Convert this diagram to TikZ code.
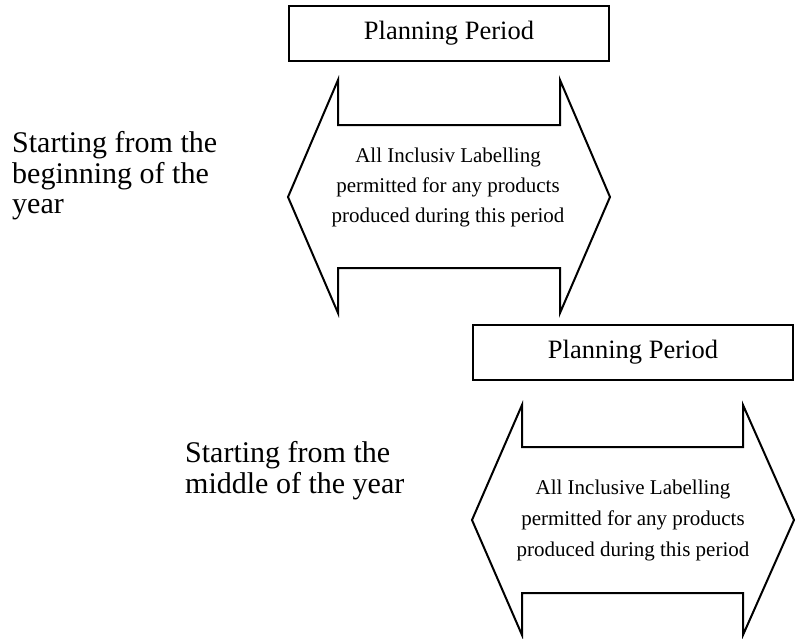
\documentclass[tikz,border=0pt]{standalone}
\usepackage{fontspec}
\setmainfont{Liberation Serif}
\begin{document}
\begin{tikzpicture}[x=1pt,y=-1pt,
  period/.style={draw, line width=2pt, minimum width=320pt, minimum height=55pt, inner sep=0pt, font=\fontsize{26.5}{30}\selectfont},
  arrowtext/.style={anchor=base, inner sep=0pt, font=\fontsize{21}{31}\selectfont},
  sidelabel/.style={anchor=base west, inner sep=0pt, font=\fontsize{30}{31}\selectfont},
  dblarrow/.style={draw, line width=2pt, line join=miter}]
\useasboundingbox (0,0) rectangle (795,638);

% first period
\node[period] (p1) at (449,33.5) {Planning Period};
\draw[dblarrow] (288,197) -- (338,80) -- (338,125) -- (560,125) -- (560,80) -- (610,197)
  -- (560,313) -- (560,268) -- (338,268) -- (338,313) -- cycle;
\node[arrowtext] (a1a) at (448,162) {All Inclusiv Labelling};
\node[arrowtext] (a1b) at (448,192) {permitted for any products};
\node[arrowtext] (a1c) at (448,222) {produced during this period};

\node[sidelabel] (l1a) at (12,152) {Starting from the};
\node[sidelabel] (l1b) at (12,183) {beginning of the};
\node[sidelabel] (l1c) at (12,213) {year};

% second period
\node[period] (p2) at (633,352) {Planning Period};
\draw[dblarrow] (472,520) -- (522,405) -- (522,447) -- (743,447) -- (743,405) -- (794,520)
  -- (743,635) -- (743,593) -- (522,593) -- (522,635) -- cycle;
\node[arrowtext] (a2a) at (633,494) {All Inclusive Labelling};
\node[arrowtext] (a2b) at (633,525) {permitted for any products};
\node[arrowtext] (a2c) at (633,556) {produced during this period};

\node[sidelabel] (l2a) at (185,462) {Starting from the};
\node[sidelabel] (l2b) at (185,493) {middle of the year};
\end{tikzpicture}
\end{document}
